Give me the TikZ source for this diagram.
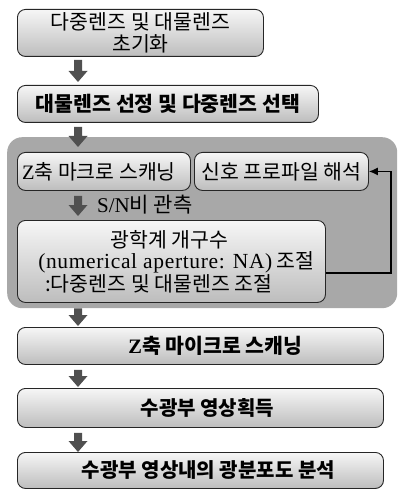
\documentclass[tikz,border=0pt]{standalone}
\usepackage{fontspec}
\setmainfont{Noto Sans CJK KR}
\newfontfamily\lat{Liberation Serif}
\newfontfamily\latwide[LetterSpace=3]{Liberation Serif}
\usetikzlibrary{calc,arrows.meta}
\definecolor{regiongray}{HTML}{A8A8A8}
\definecolor{arrowgray}{HTML}{505050}
\definecolor{boxtop}{HTML}{F6F6F6}
\definecolor{boxbot}{HTML}{BDBDBD}
\tikzset{
  box/.style={draw=black!85, line width=0.9pt, rounded corners=8pt,
    top color=boxtop, bottom color=boxbot, anchor=north west,
    inner sep=0pt, align=center},
  smalltxt/.style={font=\fontsize{20.5}{21.5}\selectfont},
  bigtxt/.style={font=\fontsize{20.5}{21.5}\selectfont},
  lowtxt/.style={font=\fontsize{20}{21.5}\selectfont},
  feedback/.style={draw=black, line width=1.2pt, -{Latex[length=9pt,width=8pt]}},
}
\newcommand{\blockarrow}[2]{%
  \fill[arrowgray] ($(#1)+(-4,0)$) -- ($(#2)+(-4,-11)$) -- ($(#2)+(-9.5,-11)$)
    -- (#2) -- ($(#2)+(9.5,-11)$) -- ($(#2)+(4,-11)$) -- ($(#1)+(4,0)$) -- cycle;}
\begin{document}
\begin{tikzpicture}[x=1pt,y=-1pt]
\useasboundingbox (0,0) rectangle (398,489);
% grey region
\node[fill=regiongray, rounded corners=15pt, anchor=north west, inner sep=0pt,
  minimum width=390pt, minimum height=171pt] (region) at (7,137) {};
% boxes
\node[box, smalltxt, minimum width=246pt, minimum height=47pt] (b1) at (17,9)
  {다중렌즈 및 대물렌즈\\초기화};
\node[box, smalltxt, minimum width=301pt, minimum height=37pt] (b2) at (17,85)
  {\bfseries 대물렌즈 선정 및 다중렌즈 선택};
\node[box, bigtxt, minimum width=173pt, minimum height=38pt] (b3) at (17,152)
  {{\lat Z}축 마크로 스캐닝\hspace*{10pt}};
\node[box, bigtxt, minimum width=174pt, minimum height=38pt] (b4) at (194,152)
  {신호 프로파일 해석};
\node[box, bigtxt, minimum width=308pt, minimum height=82pt, align=left] (b5) at (17,220)
  {\hspace*{82pt}광학계 개구수\\
   \hspace*{10pt}{\latwide\fontsize{21.5}{21.5}\selectfont (numerical aperture: NA)} 조절\\
   \hspace*{17pt}:다중렌즈 및 대물렌즈 조절};
\node[box, bigtxt, minimum width=366pt, minimum height=37pt] (b6) at (17,327)
  {\hspace*{30pt}\bfseries {\lat Z}축 마이크로 스캐닝};
\node[box, lowtxt, minimum width=366pt, minimum height=39pt] (b7) at (17,388)
  {\hspace*{14pt}\bfseries 수광부 영상획득};
\node[box, lowtxt, minimum width=366pt, minimum height=36pt] (b8) at (17,452)
  {\hspace*{16pt}\bfseries 수광부 영상내의 광분포도 분석};
% label
\node[font=\fontsize{21}{22}\selectfont, anchor=west, inner sep=0pt] (sn) at (97,205)
  {{\lat S/N}비 관측};
% block arrows
\coordinate (a1s) at ($(b1.south west)+(61,3)$);
\coordinate (a1e) at ($(b2.north west)+(61,-3)$);
\coordinate (a2s) at ($(b2.south west)+(61,4)$);
\coordinate (a2e) at ($(b3.north west)+(61,-5)$);
\coordinate (a3s) at ($(b3.south west)+(61,5)$);
\coordinate (a3e) at ($(b5.north west)+(61,-4)$);
\coordinate (a4s) at ($(region.south west)+(71,0)$);
\coordinate (a4e) at ($(b6.north west)+(61,-1)$);
\coordinate (a5s) at ($(b6.south west)+(61,5)$);
\coordinate (a5e) at ($(b7.north west)+(61,-1)$);
\coordinate (a6s) at ($(b7.south west)+(61,5)$);
\coordinate (a6e) at ($(b8.north west)+(61,0)$);
\blockarrow{a1s}{a1e}
\blockarrow{a2s}{a2e}
\blockarrow{a3s}{a3e}
\blockarrow{a4s}{a4e}
\blockarrow{a5s}{a5e}
\blockarrow{a6s}{a6e}
% feedback loop
\coordinate (fbA) at ($(b5.north east)+(0,53)$);
\coordinate (fbturn) at ($(b4.east)+(22,0)$);
\draw[feedback] (fbA) -| (fbturn) -- (b4.east);
\end{tikzpicture}
\end{document}
